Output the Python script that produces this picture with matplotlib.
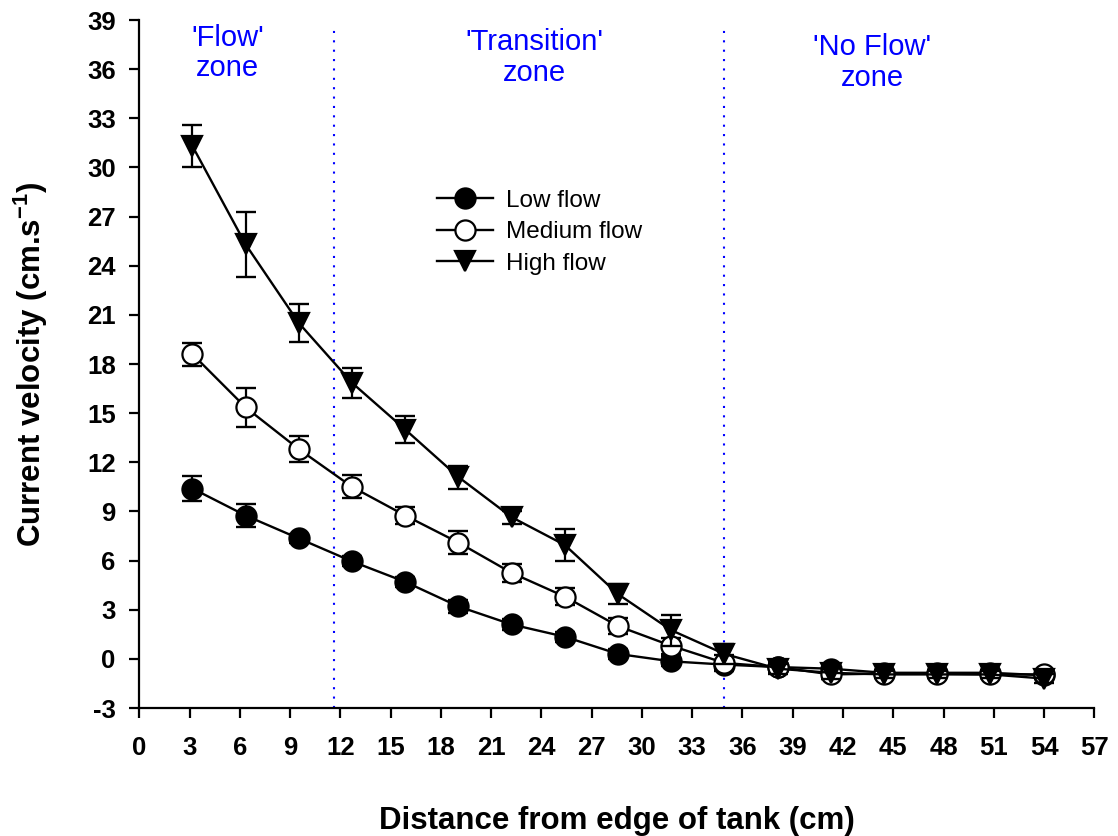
import matplotlib
matplotlib.use('Agg')
import matplotlib.pyplot as plt

plt.rcParams['font.family'] = ['Liberation Sans', 'DejaVu Sans']
plt.rcParams['mathtext.fontset'] = 'custom'
plt.rcParams['mathtext.rm'] = 'Liberation Sans'
plt.rcParams['mathtext.bf'] = 'Liberation Sans:bold'
plt.rcParams['mathtext.default'] = 'bf'
plt.rcParams['axes.unicode_minus'] = False

# distance from tank edge (cm)
distance = [3.175, 6.35, 9.525, 12.7, 15.875, 19.05, 22.225, 25.4, 28.575,
            31.75, 34.925, 38.1, 41.275, 44.45, 47.625, 50.8, 53.975]

low = [10.4, 8.75, 7.35, 5.95, 4.7, 3.2, 2.1, 1.35, 0.3,
       -0.15, -0.35, -0.5, -0.6, -0.85, -0.85, -0.85, -1.0]
low_err = [0.75, 0.72, 0.3, 0.3, 0.3, 0.4, 0.35, 0.3, 0.3,
           0.3, 0.3, 0.3, 0.3, 0.2, 0.2, 0.2, 0.2]

medium = [18.6, 15.35, 12.8, 10.5, 8.75, 7.1, 5.25, 3.8, 2.0,
          0.8, -0.25, -0.5, -0.95, -0.9, -0.9, -0.95, -0.95]
medium_err = [0.7, 1.2, 0.8, 0.7, 0.5, 0.7, 0.55, 0.5, 0.5,
              0.5, 0.5, 0.3, 0.3, 0.2, 0.2, 0.2, 0.2]

high = [31.3, 25.3, 20.5, 16.85, 14.0, 11.1, 8.65, 6.95, 3.95,
        1.75, 0.3, -0.6, -0.85, -0.95, -0.95, -0.95, -1.2]
high_err = [1.3, 2.0, 1.15, 0.9, 0.85, 0.7, 0.4, 1.0, 0.6,
            0.95, 0.6, 0.3, 0.4, 0.2, 0.2, 0.2, 0.3]

series_names = ['Low flow', 'Medium flow', 'High flow']
zone_bounds = [11.6, 34.925]
zone_labels = ["'Flow'\nzone", "'Transition'\nzone", "'No Flow'\nzone"]
zone_x = [5.25, 23.6, 43.75]
zone_y = [37.0, 36.7, 36.4]

x_ticks = list(range(0, 58, 3))
y_ticks = list(range(-3, 40, 3))

fig = plt.figure(figsize=(11.18, 8.36), dpi=100)
ax = fig.add_axes([0.1246, 0.1531, 0.8542, 0.8229])

styles = [dict(marker='o', mfc='black'),
          dict(marker='o', mfc='white'),
          dict(marker='v', mfc='black')]
data = [(low, low_err), (medium, medium_err), (high, high_err)]

z = 2
for (vals, errs), st, name in zip(data, styles, series_names):
    ax.errorbar(distance, vals, yerr=errs, fmt='none', ecolor='black',
                elinewidth=1.6, capsize=7.5, capthick=1.7, zorder=z)
    ax.plot(distance, vals, color='black', lw=1.7, ms=14.5, mec='black',
            mew=1.6, label=name, zorder=z + 0.1, **st)
    z += 0.2

for xb in zone_bounds:
    ax.vlines(xb, -3, 38.6, colors='#0000ff', linestyles=(0, (1, 3.5)),
              lw=1.5, zorder=1)

for lab, xx, yy in zip(zone_labels, zone_x, zone_y):
    ax.text(xx, yy, lab, color='#0000ff', fontsize=21, ha='center',
            va='center', linespacing=1.12)

ax.set_xlim(0, 57)
ax.set_ylim(-3, 39)
ax.set_xticks(x_ticks)
ax.set_yticks(y_ticks)
for s in ['top', 'right']:
    ax.spines[s].set_visible(False)
for s in ['left', 'bottom']:
    ax.spines[s].set_linewidth(1.6)
ax.tick_params(direction='out', length=7, width=1.6, labelsize=18.5)
ax.tick_params(axis='x', pad=13)
ax.tick_params(axis='y', pad=10)
for t in ax.get_xticklabels() + ax.get_yticklabels():
    t.set_fontweight('bold')

ax.set_xlabel('Distance from edge of tank (cm)', fontsize=22.5,
              fontweight='bold')
ax.xaxis.set_label_coords(0.5, -0.143)
ax.set_ylabel(r'Current velocity (cm.s$^{-1}$)', fontsize=22.5,
              fontweight='bold')
ax.yaxis.set_label_coords(-0.094, 0.5)

ax.legend(loc='upper left', bbox_to_anchor=(0.3117, 0.753), frameon=False,
          fontsize=17.5, handlelength=2.3, handletextpad=0.55,
          labelspacing=0.39, borderpad=0, borderaxespad=0)

fig.savefig('out.png', dpi=100)
